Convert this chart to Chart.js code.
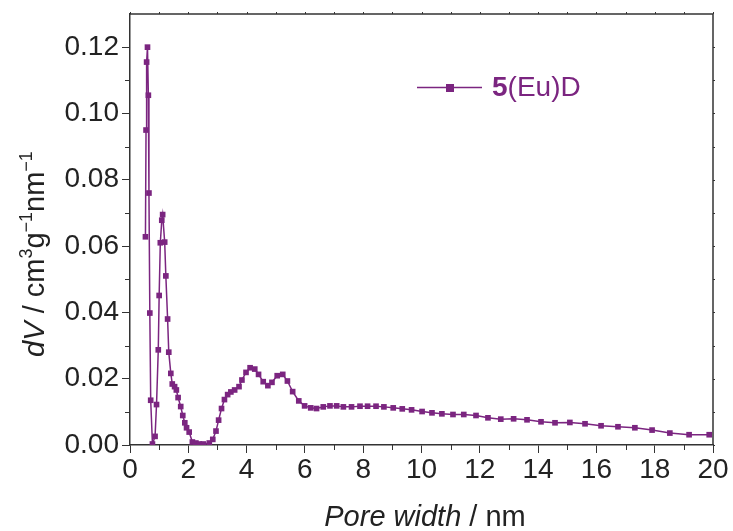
<!DOCTYPE html>
<html>
<head>
<meta charset="utf-8">
<script src="https://cdn.jsdelivr.net/npm/chart.js@4.4.1/dist/chart.umd.min.js"></script>
<style>
  html, body { margin: 0; padding: 0; background: #fff; }
  #wrap { width: 733px; height: 531px; }
</style>
</head>
<body>
<div id="wrap"><canvas id="pore-chart" width="733" height="531"></canvas></div>
<script>
// pore size distribution
const poreWidth = [
  0.53, 0.55, 0.57, 0.60, 0.63, 0.65, 0.68, 0.71, 0.77, 0.86,
  0.91, 0.97, 1.00, 1.04, 1.09, 1.12, 1.19, 1.23, 1.29, 1.33,
  1.40, 1.45, 1.53, 1.59, 1.65, 1.74, 1.81, 1.88, 1.94, 2.03,
  2.14, 2.26, 2.38, 2.51, 2.72, 2.84, 2.95, 3.04, 3.14, 3.24,
  3.35, 3.46, 3.59, 3.74, 3.84, 3.98, 4.12, 4.28, 4.41, 4.57,
  4.73, 4.87, 5.05, 5.24, 5.40, 5.58, 5.79, 5.99, 6.20, 6.40,
  6.63, 6.86, 7.09, 7.32, 7.60, 7.89, 8.15, 8.44, 8.71, 9.03,
  9.34, 9.66, 10.02, 10.36, 10.70, 11.08, 11.45, 11.87, 12.28, 12.72,
  13.16, 13.62, 14.10, 14.58, 15.09, 15.61, 16.16, 16.74, 17.32, 17.91,
  18.52, 19.18, 19.87
];
const dV = [
  0.0628, 0.0950, 0.1155, 0.1200, 0.1055, 0.0760, 0.0398, 0.0135, 0.0003, 0.0026,
  0.0122, 0.0287, 0.0451, 0.0610, 0.0678, 0.0695, 0.0612, 0.0510, 0.0380, 0.0280,
  0.0216, 0.0184, 0.0176, 0.0166, 0.0143, 0.0116, 0.0089, 0.0067, 0.0052, 0.0039,
  0.0009, 0.0006, 0.0003, 0.0003, 0.0006, 0.0017, 0.0042, 0.0075, 0.0110, 0.0137,
  0.0152, 0.0160, 0.0166, 0.0176, 0.0196, 0.0219, 0.0233, 0.0229, 0.0213, 0.0191,
  0.0179, 0.0189, 0.0209, 0.0213, 0.0193, 0.0161, 0.0133, 0.0118, 0.0112, 0.0110,
  0.0115, 0.0118, 0.0118, 0.0115, 0.0115, 0.0117, 0.0117, 0.0117, 0.0115, 0.0112,
  0.0109, 0.0106, 0.0101, 0.0097, 0.0094, 0.0092, 0.0092, 0.0089, 0.0082, 0.0078,
  0.0079, 0.0076, 0.0070, 0.0067, 0.0068, 0.0064, 0.0058, 0.0055, 0.0052, 0.0045,
  0.0036, 0.0031, 0.0031
];
const xTicks = [0, 2, 4, 6, 8, 10, 12, 14, 16, 18, 20];
const xMinor = [1, 3, 5, 7, 9, 11, 13, 15, 17, 19];
const yTicks = [0, 0.02, 0.04, 0.06, 0.08, 0.10, 0.12];
const yMinor = [0.01, 0.03, 0.05, 0.07, 0.09, 0.11];
const seriesBold = "5";
const seriesRest = "(Eu)D";

const purple = "#7b2580";
const ink = "#222";
const axisCol = "#333";
const fam = "'Liberation Sans', Arial, Helvetica, sans-serif";

function fontStr(style, size) {
  let s = "";
  if (style === "italic") s = "italic ";
  if (style === "bold") s = "bold ";
  return s + size + "px " + fam;
}

// draw text made of pieces (italic / superscript), centred on x
function drawRich(ctx, parts, cx, baseY, size) {
  const supSize = Math.round(size * 0.62);
  let total = 0;
  for (const p of parts) {
    ctx.font = fontStr(p.style, p.sup ? supSize : size);
    total += ctx.measureText(p.text).width;
  }
  let x = cx - total / 2;
  ctx.textAlign = "left";
  ctx.textBaseline = "alphabetic";
  for (const p of parts) {
    ctx.font = fontStr(p.style, p.sup ? supSize : size);
    ctx.fillText(p.text, x, p.sup ? baseY - size * 0.42 : baseY);
    x += ctx.measureText(p.text).width;
  }
}

const decor = {
  id: "decor",
  afterDraw(chart) {
    const ctx = chart.ctx;
    const a = chart.chartArea;
    const xs = chart.scales.x, ys = chart.scales.y;
    ctx.save();
    ctx.strokeStyle = axisCol;
    ctx.lineWidth = 1.5;
    // top and right frame
    ctx.beginPath();
    ctx.moveTo(a.left, a.top); ctx.lineTo(a.right, a.top); ctx.lineTo(a.right, a.bottom);
    ctx.stroke();
    ctx.lineWidth = 1;
    ctx.beginPath();
    for (const v of xMinor) {
      const px = Math.round(xs.getPixelForValue(v)) + 0.5;
      ctx.moveTo(px, a.bottom); ctx.lineTo(px, a.bottom + 5);
      ctx.moveTo(px, a.top); ctx.lineTo(px, a.top - 2);
    }
    for (const v of xTicks) {
      const px = Math.round(xs.getPixelForValue(v)) + 0.5;
      ctx.moveTo(px, a.top); ctx.lineTo(px, a.top - 2);
    }
    for (const v of yMinor) {
      const py = Math.round(ys.getPixelForValue(v)) + 0.5;
      ctx.moveTo(a.left, py); ctx.lineTo(a.left - 5, py);
      ctx.moveTo(a.right, py); ctx.lineTo(a.right + 2, py);
    }
    for (const v of yTicks) {
      const py = Math.round(ys.getPixelForValue(v)) + 0.5;
      ctx.moveTo(a.right, py); ctx.lineTo(a.right + 2, py);
    }
    ctx.stroke();

    // axis titles
    ctx.fillStyle = ink;
    drawRich(ctx, [
      { text: "Pore width", style: "italic" },
      { text: " / nm", style: "normal" }
    ], 425, 526, 29);

    ctx.save();
    ctx.translate(44, 254);
    ctx.rotate(-Math.PI / 2);
    drawRich(ctx, [
      { text: "dV", style: "italic" },
      { text: " / cm", style: "normal" },
      { text: "3", style: "normal", sup: true },
      { text: "g", style: "normal" },
      { text: "\u22121", style: "normal", sup: true },
      { text: "nm", style: "normal" },
      { text: "\u22121", style: "normal", sup: true }
    ], 0, 0, 29);
    ctx.restore();

    // legend
    ctx.strokeStyle = purple;
    ctx.lineWidth = 1.4;
    ctx.beginPath();
    ctx.moveTo(417, 87.5); ctx.lineTo(482, 87.5);
    ctx.stroke();
    ctx.fillStyle = purple;
    ctx.fillRect(446, 84, 8, 8);
    ctx.textAlign = "left";
    ctx.textBaseline = "middle";
    ctx.font = fontStr("bold", 28);
    ctx.fillText(seriesBold, 492, 88);
    const w = ctx.measureText(seriesBold).width;
    ctx.font = fontStr("normal", 28);
    ctx.fillText(seriesRest, 492 + w, 88);
    ctx.restore();
  }
};

const chart = new Chart(document.getElementById("pore-chart"), {
  type: "line",
  data: {
    datasets: [{
      label: seriesBold + seriesRest,
      data: poreWidth.map((x, i) => ({ x: x, y: dV[i] })),
      borderColor: purple,
      backgroundColor: purple,
      borderWidth: 1.5,
      pointStyle: "rect",
      pointRadius: 4,
      pointBorderWidth: 0,
      pointBackgroundColor: purple,
      tension: 0,
      fill: false
    }]
  },
  options: {
    responsive: false,
    animation: false,
    devicePixelRatio: 1,
    layout: { padding: { top: 14, right: 20, left: 0, bottom: 0 } },
    plugins: { legend: { display: false }, tooltip: { enabled: false } },
    scales: {
      x: {
        type: "linear",
        min: 0, max: 20,
        afterBuildTicks: s => { s.ticks = xTicks.map(v => ({ value: v })); },
        afterFit: s => { s.height = 86; },
        ticks: { color: ink, font: { family: fam, size: 28 }, padding: 0, maxRotation: 0 },
        grid: { drawOnChartArea: false, tickLength: 8, tickColor: axisCol, tickWidth: 1 },
        border: { color: axisCol, width: 1.5 }
      },
      y: {
        min: 0, max: 0.13,
        afterBuildTicks: s => { s.ticks = yTicks.map(v => ({ value: v })); },
        afterFit: s => { s.width = 130; s.paddingTop = 0; s.paddingBottom = 0; },
        ticks: { color: ink, font: { family: fam, size: 28 }, padding: 3,
                 callback: v => v.toFixed(2) },
        grid: { drawOnChartArea: false, tickLength: 8, tickColor: axisCol, tickWidth: 1 },
        border: { color: axisCol, width: 1.5 }
      }
    }
  },
  plugins: [decor]
});
</script>
</body>
</html>
